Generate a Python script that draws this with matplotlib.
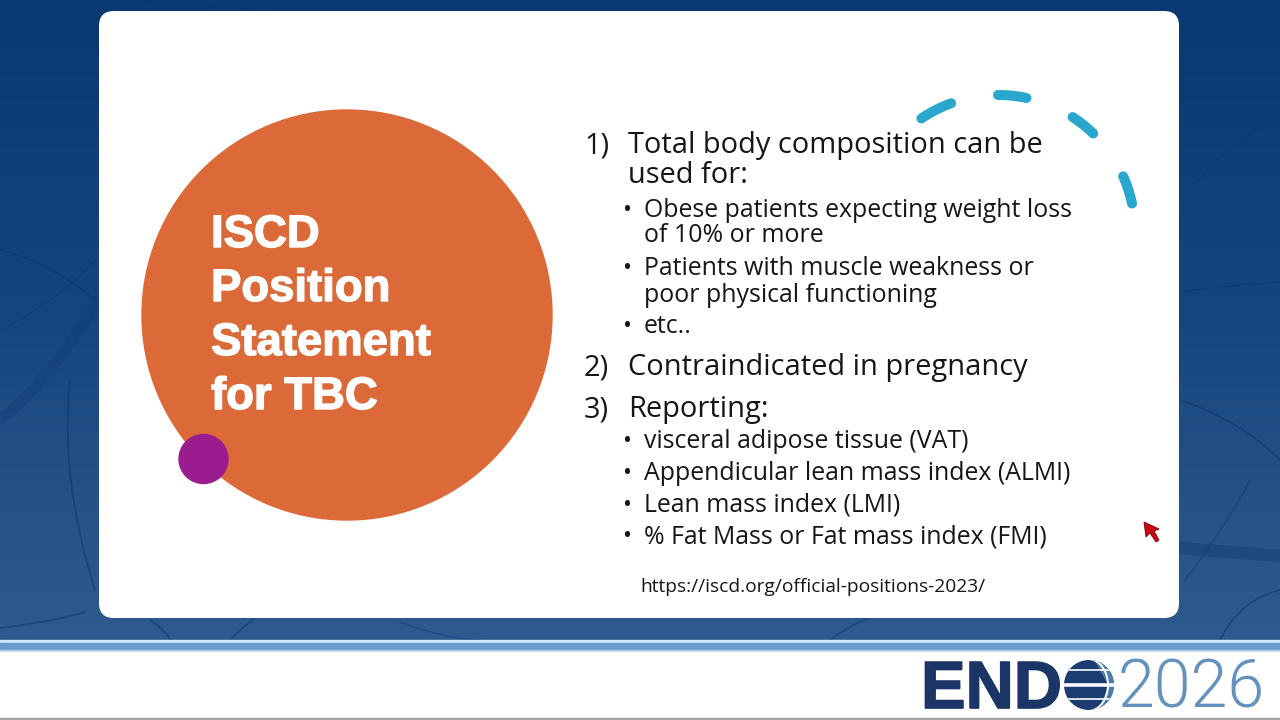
import numpy as np
import matplotlib
matplotlib.use("Agg")
import matplotlib.pyplot as plt
import matplotlib.patheffects as pe
from matplotlib.patches import Circle, FancyBboxPatch, Polygon, Rectangle, Arc
from matplotlib.colors import LinearSegmentedColormap

# ---------------- content ----------------
title_lines = ["ISCD", "Position", "Statement", "for TBC"]

body_markers = ["1)", "", "\u2022", "", "\u2022", "", "\u2022",
                "2)", "3)", "\u2022", "\u2022", "\u2022", "\u2022"]
body_texts = ["Total body composition can be",
              "used for:",
              "Obese patients expecting weight loss",
              "of 10% or more",
              "Patients with muscle weakness or",
              "poor physical functioning",
              "etc..",
              "Contraindicated in pregnancy",
              "Reporting:",
              "visceral adipose tissue (VAT)",
              "Appendicular lean mass index (ALMI)",
              "Lean mass index (LMI)",
              "% Fat Mass or Fat mass index (FMI)"]
body_levels = [1, 1, 2, 2, 2, 2, 2, 1, 1, 2, 2, 2, 2]
source_url = "https://iscd.org/official-positions-2023/"
logo_word = "END"
logo_year = "2026"

# ---------------- layout ----------------
W, H = 1280, 720
body_baselines = [153, 183, 217, 242, 275, 302, 333, 375, 417, 448, 480, 512, 543]
title_baselines = [247, 301, 355, 409]

fig = plt.figure(figsize=(12.8, 7.2), dpi=100)
ax = fig.add_axes([0, 0, 1, 1])
renderer = fig.canvas.get_renderer()


def fit_size(t, target_w):
    w = t.get_window_extent(renderer).width
    t.set_fontsize(t.get_fontsize() * target_w / w)
    return t.get_fontsize()


# background gradient
bg_cmap = LinearSegmentedColormap.from_list("bg", ["#0a3872", "#17467f", "#2f5a8e"])
grad = np.linspace(0, 1, 256).reshape(-1, 1)
ax.imshow(grad, extent=(0, W, 641, 0), cmap=bg_cmap, aspect="auto", zorder=0)

# faint nerve-like texture
nerve_col = "#0b3670"
def curve(p0, p1, p2, lw=1.2, alpha=0.55):
    t = np.linspace(0, 1, 60)
    x = (1 - t) ** 2 * p0[0] + 2 * (1 - t) * t * p1[0] + t ** 2 * p2[0]
    y = (1 - t) ** 2 * p0[1] + 2 * (1 - t) * t * p1[1] + t ** 2 * p2[1]
    ax.plot(x, y, color=nerve_col, lw=lw, alpha=alpha, zorder=1, solid_capstyle="round")

curve((1180, 292), (1230, 285), (1280, 282))
curve((1190, 190), (1240, 130), (1280, 120), alpha=0.3)
curve((1180, 400), (1240, 420), (1280, 460))
curve((1185, 580), (1230, 520), (1250, 480), alpha=0.4)
curve((1180, 548), (1230, 552), (1280, 556), lw=9, alpha=0.35)
curve((1220, 640), (1240, 600), (1280, 590))
curve((0, 250), (50, 262), (95, 300))
curve((0, 330), (60, 300), (95, 260), alpha=0.4)
curve((0, 420), (50, 380), (98, 300), lw=8, alpha=0.25)
curve((70, 380), (60, 480), (95, 590))
curve((0, 628), (50, 622), (85, 612))
curve((150, 620), (165, 630), (170, 640))
curve((230, 640), (245, 625), (255, 618))
curve((830, 640), (850, 625), (870, 618))
curve((400, 622), (450, 640), (480, 640), alpha=0.35)
curve((130, 0), (200, 5), (260, 11), alpha=0.3)

# bottom bands
ax.add_patch(Rectangle((0, 640), W, 3, color="#cfe7f6", zorder=2))
ax.add_patch(Rectangle((0, 643), W, 7, color="#6b9bcb", zorder=2))
ax.add_patch(Rectangle((0, 650), W, 2, color="#b3d0ea", zorder=2))
ax.add_patch(Rectangle((0, 652), W, 66, color="white", zorder=2))
ax.add_patch(Rectangle((0, 718), W, 2, color="#a3a3a3", zorder=2))

# white card
ax.add_patch(FancyBboxPatch((99 + 15, 11 + 15), 1080 - 30, 607 - 30,
                            boxstyle="round,pad=15", fc="white", ec="none", zorder=3))

# orange circle + purple dot
ax.add_patch(Circle((347, 315), 205, color="#dc6a38", zorder=4))
ax.add_patch(Circle((203.5, 459), 24.5, color="#9a1c8f", zorder=5))

# title text
tt = [ax.text(211, b, s, color="white", fontsize=32, fontweight="bold",
              family=["Liberation Sans", "DejaVu Sans"], va="baseline", ha="left", zorder=6,
              path_effects=[pe.withStroke(linewidth=1.0, foreground="white")])
      for s, b in zip(title_lines, title_baselines)]
fs = fit_size(tt[2], 220)
for t in tt:
    t.set_fontsize(fs)

# dashed arc decoration
cx, cy, r = 998, 232, 137
for a0, a1 in [(110, 124), (78, 90), (46, 57), (12, 24)]:
    th = np.radians(np.linspace(a0, a1, 30))
    ax.plot(cx + r * np.cos(th), cy - r * np.sin(th), color="#2aa7cf", lw=7.2,
            solid_capstyle="round", zorder=6)

# body text
body_font = ["Open Sans", "DejaVu Sans"]
txt_col = "#161616"
objs = []
for m, s, lvl, b in zip(body_markers, body_texts, body_levels, body_baselines):
    if lvl == 1:
        if m:
            mo = ax.text(584, b, m, color=txt_col, fontsize=20, family=body_font,
                         va="baseline", ha="left", zorder=6)
            objs.append((mo, 1))
        to = ax.text(628, b, s, color=txt_col, fontsize=20, family=body_font,
                     va="baseline", ha="left", zorder=6)
        objs.append((to, 1))
    else:
        if m:
            mo = ax.text(623, b, m, color=txt_col, fontsize=17, family=body_font,
                         va="baseline", ha="left", zorder=6)
            objs.append((mo, 3))
        to = ax.text(644, b, s, color=txt_col, fontsize=15, family=body_font,
                     va="baseline", ha="left", zorder=6)
        objs.append((to, 2))

ref1 = [o for o, l in objs if o.get_text() == body_texts[0]][0]
ref2 = [o for o, l in objs if o.get_text() == body_texts[2]][0]
fs1 = fit_size(ref1, 414)
fs2 = fit_size(ref2, 429)
for o, l in objs:
    if l == 1:
        o.set_fontsize(fs1)
    elif l == 2:
        o.set_fontsize(fs2)

ut = ax.text(640, 592, source_url, color=txt_col, fontsize=13, family=body_font,
             va="baseline", ha="left", zorder=6)
fit_size(ut, 343)

# cursor
ax.add_patch(Polygon([(1144, 522), (1146, 537), (1150, 533), (1156, 542),
                      (1159, 540), (1154, 531), (1159, 529)],
                     closed=True, fc="#cc0612", ec="#7a0008", lw=0.6, zorder=7))

# logo
et = ax.text(921, 708, logo_word, color="#1b3567", fontsize=48, fontweight="bold",
             family=["Liberation Sans", "DejaVu Sans"], va="baseline", ha="left", zorder=6,
             path_effects=[pe.withStroke(linewidth=1.2, foreground="#1b3567")])
fit_size(et, 141)

gc = Circle((1089, 685), 25, fc="#1c3b70", ec="none", zorder=6)
ax.add_patch(gc)
light = Polygon([(1092, 655), (1120, 655), (1120, 715), (1098, 715), (1108, 685)],
                closed=True, fc="#4d7db0", ec="none", zorder=6)
ax.add_patch(light)
light.set_clip_path(gc)
for yy, lw in [(670, 1.2), (684.5, 2.6), (699, 1.2)]:
    ln, = ax.plot([1060, 1118], [yy, yy], color="white", lw=lw, zorder=7)
    ln.set_clip_path(gc)
mer = Arc((1088, 685), 40, 52, theta1=-90, theta2=90, color="white", lw=1.4, zorder=7)
ax.add_patch(mer)
mer.set_clip_path(gc)

yt = ax.text(1118, 708, logo_year, color="#6591bd", fontsize=48, fontweight=300,
             family=["Roboto", "Open Sans", "DejaVu Sans"], va="baseline", ha="left", zorder=6)
fit_size(yt, 147)

ax.set_xlim(0, W)
ax.set_ylim(H, 0)
ax.axis("off")
fig.savefig("out.png", dpi=100)
